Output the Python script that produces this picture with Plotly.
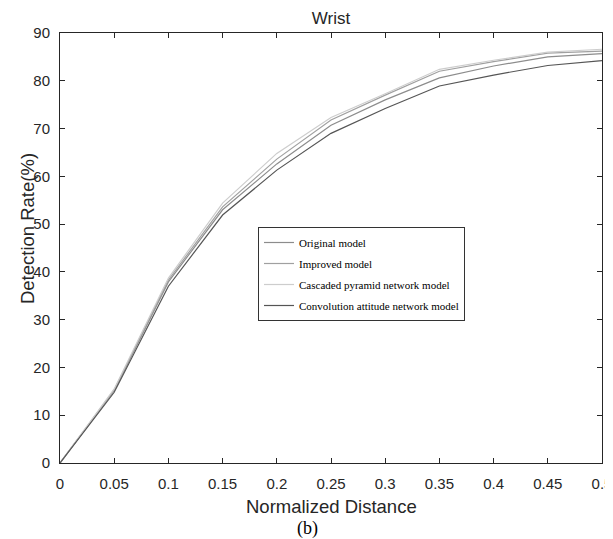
import plotly.graph_objects as go

distance = [0, 0.05, 0.1, 0.15, 0.2, 0.25, 0.3, 0.35, 0.4, 0.45, 0.5]
original = [0, 15.2, 37.9, 53.0, 62.6, 70.7, 76.0, 80.6, 83.1, 85.0, 85.7]
improved = [0, 15.3, 38.3, 53.6, 63.6, 71.8, 77.0, 82.0, 84.0, 85.8, 86.2]
cascaded = [0, 15.5, 38.7, 54.4, 64.8, 72.3, 77.3, 82.4, 84.3, 86.0, 86.6]
convolution = [0, 14.8, 37.0, 51.9, 61.3, 69.0, 74.2, 78.9, 81.2, 83.2, 84.2]
x_ticks = [0, 0.05, 0.1, 0.15, 0.2, 0.25, 0.3, 0.35, 0.4, 0.45, 0.5]
x_labels = ["0", "0.05", "0.1", "0.15", "0.2", "0.25", "0.3", "0.35", "0.4", "0.45", "0.5"]
y_ticks = [0, 10, 20, 30, 40, 50, 60, 70, 80, 90]

series = [
    ("Original model", original, "#8c8c8c"),
    ("Improved model", improved, "#a0a0a0"),
    ("Cascaded pyramid network model", cascaded, "#cdcdcd"),
    ("Convolution attitude network model", convolution, "#555555"),
]

# the page body adds an 8px offset; sizes below compensate so the plot lands where the reference has it
OFF = 8
W, H = 613, 539 - OFF

fig = go.Figure()
for i, (name, vals, col) in enumerate(series):
    fig.add_trace(go.Scatter(x=distance, y=vals, mode="lines", name=name,
                             legendgroup="g%d" % i,
                             line=dict(color=col, width=1.2)))

axis_common = dict(showline=True, linecolor="#262626", linewidth=1, mirror="ticks",
                   ticks="inside", ticklen=5, tickcolor="#262626", showgrid=False,
                   zeroline=False, automargin=False,
                   tickfont=dict(family="Liberation Sans", size=15, color="#262626"))

fig.update_layout(
    width=W, height=H,
    margin=dict(l=60 - OFF, r=W - (602 - OFF), t=33 - OFF, b=76),
    plot_bgcolor="white", paper_bgcolor="white",
    title=dict(text="Wrist", x=0.5, xref="paper", y=1 - (18 - OFF) / H, yref="container",
               xanchor="center", yanchor="middle",
               font=dict(family="Liberation Sans", size=17, color="#262626")),
    xaxis=dict(range=[0, 0.5], tickvals=x_ticks, ticktext=x_labels,
               ticklabelstandoff=7, **axis_common),
    yaxis=dict(range=[0, 90], tickvals=y_ticks, ticklabelstandoff=6, **axis_common),
    legend=dict(x=(258 - 60) / 542, y=(463 - 227) / 430, xanchor="left", yanchor="top",
                bgcolor="white", bordercolor="#333333", borderwidth=1,
                font=dict(family="Liberation Serif", size=11, color="black"),
                tracegroupgap=2, itemwidth=30),
    showlegend=True,
)

fig.add_annotation(text="Normalized Distance", xref="paper", yref="paper",
                   x=0.5, y=(463 - 507) / 430, xanchor="center", yanchor="middle",
                   showarrow=False,
                   font=dict(family="Liberation Sans", size=18.5, color="#262626"))
fig.add_annotation(text="Detection Rate(%)", xref="paper", yref="paper",
                   x=(27 - 60) / 542, y=0.544, xanchor="center", yanchor="middle",
                   textangle=-90, showarrow=False,
                   font=dict(family="Liberation Sans", size=18.5, color="#262626"))
fig.add_annotation(text="(b)", xref="paper", yref="paper", x=(307 - 60) / 542,
                   y=(463 - 528) / 430, xanchor="center", yanchor="middle",
                   showarrow=False,
                   font=dict(family="Liberation Serif", size=18, color="black"))

fig.write_html("out.html")
